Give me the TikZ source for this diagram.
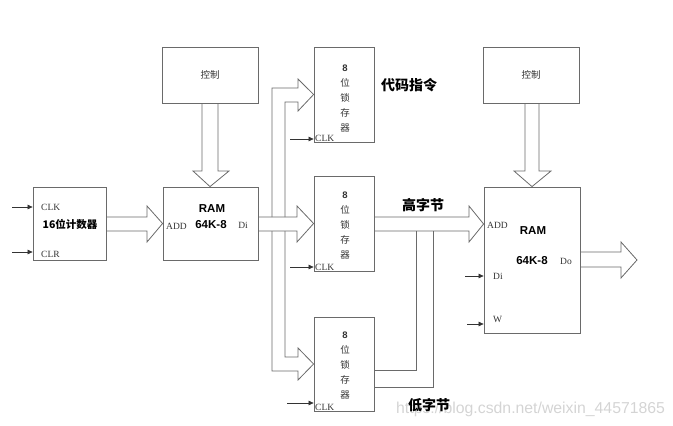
\documentclass[tikz,border=0pt]{standalone}
\usepackage{fontspec}
\setmainfont{Liberation Serif}
\newfontfamily\cjk{Noto Sans CJK SC}
\newfontfamily\arialf{Liberation Sans}
\usetikzlibrary{arrows.meta}
\definecolor{ln}{HTML}{6A6A6A}
\definecolor{tx}{HTML}{333333}
\definecolor{wm}{HTML}{D4D4D4}
\tikzset{
  box/.style={draw=ln, line width=0.8pt, rectangle, inner sep=0pt},
  bus/.style={draw=ln, line width=0.8pt, line join=miter},
  sig/.style={draw=black!80, line width=0.6pt, -{Triangle[length=5pt,width=4.5pt]}},
  pin/.style={text=tx, font=\fontsize{9.5}{10}\selectfont, inner sep=0pt},
  cn/.style={text=tx, font=\cjk\fontsize{9.5}{10}\selectfont, inner sep=0pt},
  cnb/.style={text=black, font=\cjk\bfseries\fontsize{14}{16}\selectfont, inner sep=0pt},
  ramt/.style={text=black, font=\arialf\bfseries\fontsize{11.5}{12}\selectfont, inner sep=0pt},
  latchtxt/.style={text=tx, align=center, inner sep=0pt, font=\cjk\fontsize{9.5}{15}\selectfont}
}
\begin{document}
\begin{tikzpicture}[x=1pt,y=-1pt]
\useasboundingbox (0,0) rectangle (673,426);
% boxes
\node[box, minimum width=73pt, minimum height=73pt] (cnt) at (69.5,223.5) {};
\node[box, minimum width=95pt, minimum height=73pt] (ram1) at (210.5,223.5) {};
\node[box, minimum width=96pt, minimum height=56pt] (ctl1) at (210,75) {};
\node[box, minimum width=60pt, minimum height=95pt] (l1) at (344,94.5) {};
\node[box, minimum width=60pt, minimum height=95pt] (l2) at (344,223.5) {};
\node[box, minimum width=60pt, minimum height=94pt] (l3) at (344,364) {};
\node[box, minimum width=96pt, minimum height=146pt] (ram2) at (532,260) {};
\node[box, minimum width=96pt, minimum height=56pt] (ctl2) at (531,75) {};

% texts
\node[cn] (c1t) at (ctl1.center) {控制};
\node[cn] (c2t) at (ctl2.center) {控制};
\node[pin, anchor=west] (cclk) at (41,207) {CLK};
\node[pin, anchor=west] (cclr) at (41,254) {CLR};
\node[cn, font=\cjk\bfseries\fontsize{10.5}{12}\selectfont, text=black] (cntt) at (70,224) {16位计数器};
\node[ramt] (r1a) at (212,209) {RAM};
\node[ramt] (r1b) at (211,225) {64K-8};
\node[pin, anchor=west] (r1add) at (166,226) {ADD};
\node[pin] (r1di) at (243,225) {Di};

\node[latchtxt] (l1t) at (345,99) {{\arialf\bfseries 8}\\位\\锁\\存\\器};
\node[latchtxt] (l2t) at (345,226) {{\arialf\bfseries 8}\\位\\锁\\存\\器};
\node[latchtxt] (l3t) at (345,366) {{\arialf\bfseries 8}\\位\\锁\\存\\器};
\node[pin, anchor=south west] (l1clk) at (315,142) {CLK};
\node[pin, anchor=south west] (l2clk) at (315,271) {CLK};
\node[pin, anchor=south west] (l3clk) at (315,411) {CLK};

\node[cnb] (dm) at (409,85) {代码指令};
\node[cnb] (gz) at (423,205) {高字节};
\node[node font=\arialf\fontsize{15.8}{18}\selectfont, text=wm, anchor=west, inner sep=0pt] (wmk) at (396,409) {https://blog.csdn.net/weixin\_44571865};
\node[cnb] (dz) at (429,405) {低字节};

\node[pin, anchor=west] (r2add) at (487,225) {ADD};
\node[ramt] (r2a) at (533,231) {RAM};
\node[ramt] (r2b) at (532,261) {64K-8};
\node[pin] (r2do) at (566,261) {Do};
\node[pin, anchor=west] (r2di) at (493,276) {Di};
\node[pin, anchor=west] (r2w) at (493,319) {W};

% small signal arrows
\coordinate (a1) at (12,207);
\coordinate (a2) at (12,252);
\draw[sig] (a1) -- (cnt.west |- a1);
\draw[sig] (a2) -- (cnt.west |- a2);
\coordinate (a3) at (290,139);
\coordinate (a4) at (290,267);
\coordinate (a5) at (287,403);
\draw[sig] (a3) -- (l1.west |- a3);
\draw[sig] (a4) -- (l2.west |- a4);
\draw[sig] (a5) -- (l3.west |- a5);
\coordinate (a6) at (465,276);
\coordinate (a7) at (467,324);
\draw[sig] (a6) -- (ram2.west |- a6);
\draw[sig] (a7) -- (ram2.west |- a7);

% fat arrows: control -> RAM
\draw[bus] (ctl1.south -| 202,0) -- (202,171) -- (193,171) -- (ram1.north -| 210,0) -- (229,171) -- (218,171) -- (ctl1.south -| 218,0);
\draw[bus] (ctl2.south -| 525,0) -- (525,171) -- (514,171) -- (ram2.north -| 532,0) -- (551,171) -- (539,171) -- (ctl2.south -| 539,0);
% counter -> RAM1
\draw[bus] (cnt.east |- 0,217) -- (147,217) -- (147,206) -- (ram1.west) -- (147,242) -- (147,231) -- (cnt.east |- 0,231);
% RAM1 -> latch2
\draw[bus] (ram1.east |- 0,217) -- (297,217) -- (297,206) -- (l2.west) -- (297,242) -- (297,231) -- (ram1.east |- 0,231);
% branch up to latch1
\draw[bus] (272,217) -- (272,88) -- (298,88) -- (298,79) -- (l1.west) -- (298,111) -- (298,102) -- (285,102) -- (285,217);
% branch down to latch3
\draw[bus] (272,231) -- (272,371) -- (298,371) -- (298,380) -- (l3.west) -- (298,348) -- (298,357) -- (285,357) -- (285,231);
% high byte bus -> RAM2
\draw[bus] (l2.east |- 0,217) -- (469,217) -- (469,206) -- (ram2.west |- 0,224) -- (469,242) -- (469,231) -- (l2.east |- 0,231);
% low byte lines
\draw[bus] (l3.east |- 0,370) -- (416,370) -- (416,231);
\draw[bus] (l3.east |- 0,387) -- (433,387) -- (433,231);
% RAM2 output
\coordinate (out) at (637,260);
\draw[bus] (ram2.east |- 0,252) -- (621,252) -- (621,242) -- (out) -- (621,278) -- (621,267) -- (ram2.east |- 0,267);
\end{tikzpicture}
\end{document}
